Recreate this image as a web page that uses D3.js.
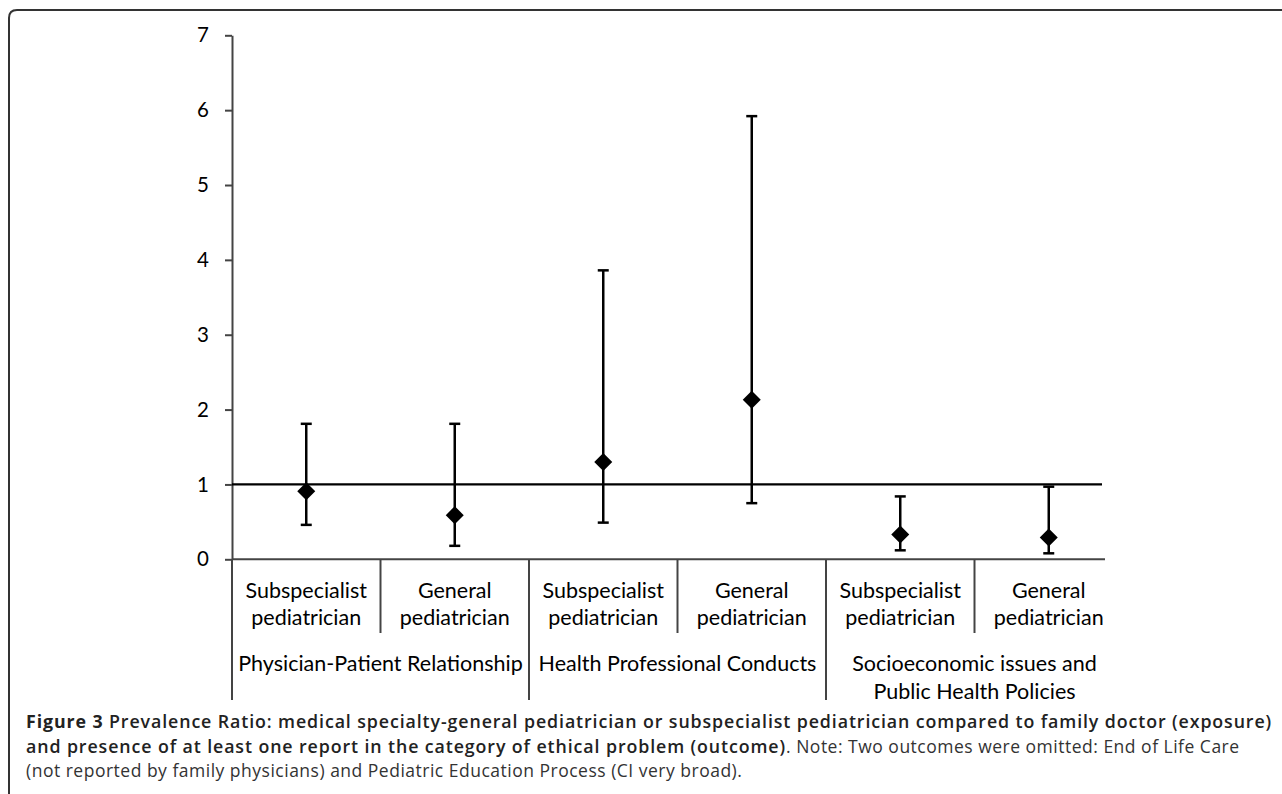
<!DOCTYPE html>
<html>
<head>
<meta charset="utf-8">
<script src="https://cdn.jsdelivr.net/npm/d3@7"></script>
<style>
  body { margin: 0; background: #fff; }
  svg { display: block; }
</style>
</head>
<body>
<svg id="chart"></svg>
<script>
// prevalence ratio chart

var groups = ["Physician-Patient Relationship", "Health Professional Conducts", "Socioeconomic issues and|Public Health Policies"];
var specialties = ["Subspecialist|pediatrician", "General|pediatrician"];
var ratio = [0.91, 0.59, 1.30, 2.13, 0.33, 0.29];
var lower = [0.46, 0.18, 0.49, 0.75, 0.12, 0.08];
var upper = [1.81, 1.81, 3.86, 5.92, 0.84, 0.97];
var yTicks = [0, 1, 2, 3, 4, 5, 6, 7];

var width = 1282, height = 794;
var plotLeft = 232, plotRight = 1123, plotTop = 35.3, plotBottom = 559.3, lineEnd = 1105;
var labelFont = "Lato, 'Open Sans', sans-serif";

var svg = d3.select("#chart")
    .attr("width", width)
    .attr("height", height);

// frame round the figure (only top and left are in view)
svg.append("path")
    .attr("d", "M9,800 L9,18 Q9,10 17,10 L1290,10")
    .attr("fill", "none")
    .attr("stroke", "#333")
    .attr("stroke-width", 2);

var y = d3.scaleLinear().domain([0, 7]).range([plotBottom, plotTop]);

var cats = d3.range(groups.length * specialties.length);
var x = d3.scaleBand().domain(cats).range([plotLeft, plotRight]).padding(0);

// y axis
var yAxis = svg.append("g")
    .attr("transform", "translate(" + plotLeft + ",0)")
    .call(d3.axisLeft(y).tickValues(yTicks).tickFormat(d3.format("d")).tickSize(7).tickSizeOuter(0).tickPadding(16));
yAxis.select(".domain").attr("stroke", "#444").attr("stroke-width", 2);
yAxis.selectAll(".tick line").attr("stroke", "#444").attr("stroke-width", 2);
yAxis.selectAll(".tick text")
    .attr("font-family", labelFont)
    .attr("font-size", 20.5)
    .attr("fill", "#000");

// x axis line
svg.append("line")
    .attr("x1", plotLeft).attr("x2", lineEnd)
    .attr("y1", y(0)).attr("y2", y(0))
    .attr("stroke", "#444").attr("stroke-width", 2);

// reference line at ratio = 1
svg.append("line")
    .attr("x1", plotLeft).attr("x2", lineEnd - 3)
    .attr("y1", y(1)).attr("y2", y(1))
    .attr("stroke", "#000").attr("stroke-width", 2.2);

// separators under the axis
svg.append("g")
    .selectAll("line")
    .data(cats)
    .enter()
    .append("line")
    .attr("x1", function(d) { return x(d); })
    .attr("x2", function(d) { return x(d); })
    .attr("y1", y(0))
    .attr("y2", function(d) { return d % 2 == 0 ? 700 : 633; })
    .attr("stroke", "#444")
    .attr("stroke-width", 2);

// specialty labels
var catText = svg.append("g")
    .selectAll("text")
    .data(cats)
    .enter()
    .append("text")
    .attr("text-anchor", "middle")
    .attr("font-family", labelFont)
    .attr("font-size", 21.5)
    .attr("fill", "#000");
catText.each(function(d) {
    var lines = specialties[d % 2].split("|");
    var t = d3.select(this);
    lines.forEach(function(l, i) {
        t.append("tspan")
            .attr("x", x(d) + x.bandwidth() / 2)
            .attr("y", 598 + i * 27)
            .text(l);
    });
});

// group labels
var groupText = svg.append("g")
    .selectAll("text")
    .data(groups)
    .enter()
    .append("text")
    .attr("text-anchor", "middle")
    .attr("font-family", labelFont)
    .attr("font-size", 21.5)
    .attr("fill", "#000");
groupText.each(function(g, gi) {
    var t = d3.select(this);
    var cx = x(gi * 2) + x.bandwidth();
    g.split("|").forEach(function(l, i) {
        t.append("tspan")
            .attr("x", cx)
            .attr("y", 671 + i * 28)
            .text(l);
    });
});

// error bars
var bars = svg.append("g");
bars.selectAll("line.bar")
    .data(cats)
    .enter()
    .append("line")
    .attr("class", "bar")
    .attr("x1", function(d) { return x(d) + x.bandwidth() / 2; })
    .attr("x2", function(d) { return x(d) + x.bandwidth() / 2; })
    .attr("y1", function(d) { return y(lower[d]); })
    .attr("y2", function(d) { return y(upper[d]); })
    .attr("stroke", "#000")
    .attr("stroke-width", 2.5);

[lower, upper].forEach(function(arr) {
    bars.selectAll(null)
        .data(cats)
        .enter()
        .append("line")
        .attr("x1", function(d) { return x(d) + x.bandwidth() / 2 - 5.5; })
        .attr("x2", function(d) { return x(d) + x.bandwidth() / 2 + 5.5; })
        .attr("y1", function(d) { return y(arr[d]); })
        .attr("y2", function(d) { return y(arr[d]); })
        .attr("stroke", "#000")
        .attr("stroke-width", 2.5);
});

// diamonds
svg.append("g")
    .selectAll("path")
    .data(cats)
    .enter()
    .append("path")
    .attr("d", "M0,-9 L9,0 L0,9 L-9,0 Z")
    .attr("transform", function(d) {
        return "translate(" + (x(d) + x.bandwidth() / 2) + "," + y(ratio[d]) + ")";
    })
    .attr("fill", "#000");

// caption
var cap = svg.append("g")
    .attr("font-family", "'Open Sans', sans-serif")
    .attr("fill", "#222");

function boldSpan(t, weight, txt) {
    return t.append("tspan")
        .attr("font-weight", weight)
        .attr("font-size", 17.8)
        .attr("letter-spacing", 0.9)
        .text(txt);
}
function plainSpan(t, txt) {
    return t.append("tspan")
        .attr("font-weight", 400)
        .attr("font-size", 17.5)
        .attr("letter-spacing", 0.5)
        .attr("fill", "#333")
        .text(txt);
}

var l1 = cap.append("text").attr("x", 26).attr("y", 728);
boldSpan(l1, 700, "Figure 3 ");
boldSpan(l1, 600, "Prevalence Ratio: medical specialty-general pediatrician or subspecialist pediatrician compared to family doctor (exposure)");

var l2 = cap.append("text").attr("x", 26).attr("y", 753);
boldSpan(l2, 600, "and presence of at least one report in the category of ethical problem (outcome)");
plainSpan(l2, ". Note: Two outcomes were omitted: End of Life Care");

var l3 = cap.append("text").attr("x", 26).attr("y", 777);
plainSpan(l3, "(not reported by family physicians) and Pediatric Education Process (CI very broad).");
</script>
</body>
</html>
